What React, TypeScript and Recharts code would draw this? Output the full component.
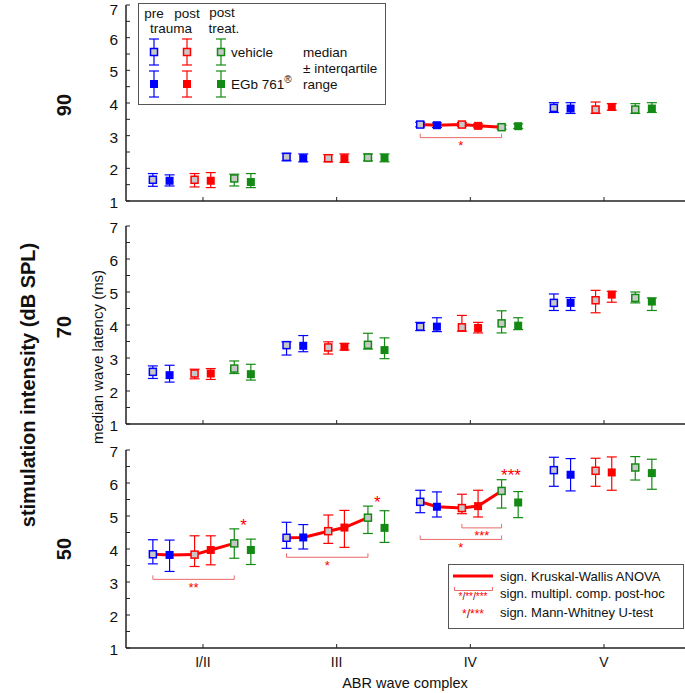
import React from 'react';
import {
  ComposedChart,
  Scatter,
  XAxis,
  YAxis,
  ErrorBar,
  ReferenceLine,
  ReferenceDot,
} from 'recharts';

// ---- data -------------------------------------------------------------
const categories = ['I/II', 'III', 'IV', 'V'];
// groups: pre trauma vehicle, pre trauma EGb, post trauma vehicle,
// post trauma EGb, post treat. vehicle, post treat. EGb

// 90 dB SPL: [wave][group]
const median90 = [
  [1.65, 1.62, 1.65, 1.62, 1.69, 1.58],
  [2.35, 2.31, 2.31, 2.31, 2.33, 2.32],
  [3.34, 3.32, 3.34, 3.3, 3.26, 3.29],
  [3.85, 3.83, 3.8, 3.88, 3.8, 3.83],
];
const q1_90 = [
  [1.45, 1.46, 1.43, 1.41, 1.46, 1.41],
  [2.23, 2.2, 2.2, 2.18, 2.23, 2.2],
  [3.27, 3.25, 3.28, 3.24, 3.2, 3.22],
  [3.71, 3.68, 3.68, 3.78, 3.68, 3.71],
];
const q3_90 = [
  [1.84, 1.8, 1.84, 1.87, 1.82, 1.84],
  [2.46, 2.44, 2.42, 2.44, 2.44, 2.44],
  [3.41, 3.39, 3.4, 3.36, 3.32, 3.36],
  [4.01, 4.01, 4.03, 3.98, 3.98, 4.01],
];

// 70 dB SPL
const median70 = [
  [2.58, 2.48, 2.53, 2.53, 2.68, 2.51],
  [3.39, 3.37, 3.32, 3.34, 3.4, 3.24],
  [3.95, 3.95, 3.93, 3.91, 4.05, 3.98],
  [4.67, 4.67, 4.75, 4.92, 4.82, 4.71],
];
const q1_70 = [
  [2.38, 2.27, 2.37, 2.35, 2.53, 2.33],
  [3.09, 3.19, 3.12, 3.24, 3.27, 2.98],
  [3.83, 3.8, 3.81, 3.76, 3.76, 3.86],
  [4.44, 4.44, 4.37, 4.69, 4.67, 4.44],
];
const q3_70 = [
  [2.76, 2.78, 2.66, 2.68, 2.91, 2.81],
  [3.49, 3.68, 3.49, 3.44, 3.75, 3.61],
  [4.08, 4.22, 4.29, 4.08, 4.43, 4.22],
  [4.94, 4.83, 5.05, 5.02, 5.0, 4.82],
];

// 50 dB SPL
const median50 = [
  [3.84, 3.82, 3.83, 3.97, 4.17, 3.97],
  [4.34, 4.35, 4.54, 4.65, 4.95, 4.64],
  [5.43, 5.28, 5.24, 5.3, 5.76, 5.41],
  [6.39, 6.25, 6.37, 6.32, 6.47, 6.3],
];
const q1_50 = [
  [3.55, 3.32, 3.47, 3.52, 3.72, 3.53],
  [4.02, 4.0, 4.17, 4.05, 4.47, 4.2],
  [5.1, 4.97, 5.07, 4.97, 5.24, 4.95],
  [5.9, 5.76, 5.9, 5.78, 6.09, 5.81],
];
const q3_50 = [
  [4.28, 4.27, 4.4, 4.4, 4.61, 4.3],
  [4.81, 4.74, 5.03, 5.17, 5.3, 5.16],
  [5.78, 5.73, 5.66, 5.78, 6.1, 5.74],
  [6.78, 6.74, 6.75, 6.79, 6.8, 6.72],
];

// significant Kruskal-Wallis per wave
const kruskal90 = [false, false, true, false];
const kruskal70 = [false, false, false, false];
const kruskal50 = [true, true, true, false];

// post-hoc brackets: wave index, from group, to group, level, stars
const brackets90 = [{ wave: 2, from: 0, to: 4, y: 2.94, stars: '*' }];
const brackets50 = [
  { wave: 0, from: 0, to: 4, y: 3.08, stars: '**' },
  { wave: 1, from: 0, to: 4, y: 3.75, stars: '*' },
  { wave: 2, from: 0, to: 4, y: 4.29, stars: '*' },
  { wave: 2, from: 2, to: 4, y: 4.64, stars: '***' },
];
// Mann-Whitney marks next to post treat. vehicle
const mannWhitney50 = [
  { wave: 0, y: 4.82, stars: '*' },
  { wave: 1, y: 5.52, stars: '*' },
  { wave: 2, y: 6.33, stars: '***' },
];

// ---- styling ----------------------------------------------------------
const FONT = '"Liberation Sans", Arial, sans-serif';
const BLUE = '#0000ff';
const RED = '#ff0000';
const GREEN = '#138a13';
const OPEN_FILL = '#c8c8c8';
const AXIS = '#222';
const BRACKET = '#e86a6a';

const groupStyle = [
  { color: BLUE, open: true },
  { color: BLUE, open: false },
  { color: RED, open: true },
  { color: RED, open: false },
  { color: GREEN, open: true },
  { color: GREEN, open: false },
];
const groupOffsets = [-0.375, -0.25, -0.063, 0.058, 0.234, 0.358];
const X_DOMAIN = [0.424, 4.606];
const Y_TICKS = [1, 1.5, 2, 2.5, 3, 3.5, 4, 4.5, 5, 5.5, 6, 6.5, 7];
const W = 685;

const panels = [
  { median: median90, q1: q1_90, q3: q3_90, kruskal: kruskal90, brackets: brackets90, mw: [] as typeof mannWhitney50 },
  { median: median70, q1: q1_70, q3: q3_70, kruskal: kruskal70, brackets: [] as typeof brackets50, mw: [] as typeof mannWhitney50 },
  { median: median50, q1: q1_50, q3: q3_50, kruskal: kruskal50, brackets: brackets50, mw: mannWhitney50 },
];

const xPos = (wave: number, group: number) => wave + 1 + groupOffsets[group];

function squareShape(open: boolean, color: string) {
  return (p: any) =>
    open ? (
      <rect x={p.cx - 3.5} y={p.cy - 3.5} width={7} height={7} fill={OPEN_FILL} stroke={color} strokeWidth={1.5} />
    ) : (
      <rect x={p.cx - 4} y={p.cy - 4} width={8} height={8} fill={color} />
    );
}

const starShape = (stars: string, size: number) => (p: any) => (
  <text
    x={p.cx}
    y={p.cy + size * 0.55}
    textAnchor="middle"
    fontSize={size}
    fill={RED}
    fontFamily={FONT}
  >
    {stars}
  </text>
);

function YTick(p: any) {
  const { x, y, payload } = p;
  const v = payload.value;
  // baseline of the label; kept inside the page for the topmost "7"
  const base = Math.max(y + 7, 15);
  return (
    <g>
      <line x1={x} x2={x + 4} y1={y} y2={y} stroke={AXIS} strokeWidth={1} />
      {Number.isInteger(v) && (
        <text x={x - 8} y={base} textAnchor="end" fontSize={15.5} fill="#111" fontFamily={FONT}>
          {v}
        </text>
      )}
    </g>
  );
}

function makeXTick(showLabels: boolean) {
  return (p: any) => {
    const { x, y, payload } = p;
    return (
      <g>
        <line x1={x} x2={x} y1={y} y2={y - 4} stroke={AXIS} strokeWidth={1} />
        {showLabels && (
          <text x={x} y={y + 14} dy="0.36em" textAnchor="middle" fontSize={14} fill="#111" fontFamily={FONT}>
            {categories[payload.value - 1]}
          </text>
        )}
      </g>
    );
  };
}

function Panel({ panel, top, marginTop, plotH, bottom }: any) {
  const axisH = bottom ? 40 : 20;
  const series = groupStyle.map((g, gi) =>
    categories.map((_, wi) => {
      const m = panel.median[wi][gi];
      return { x: xPos(wi, gi), y: m, err: [m - panel.q1[wi][gi], panel.q3[wi][gi] - m] };
    }),
  );
  return (
    <div style={{ position: 'absolute', left: 0, top }}>
      <ComposedChart
        width={W}
        height={marginTop + plotH + axisH}
        margin={{ top: marginTop, right: 0, bottom: 0, left: 0 }}
      >
        <XAxis
          type="number"
          dataKey="x"
          domain={X_DOMAIN}
          allowDataOverflow
          ticks={[1, 2, 3, 4]}
          interval={0}
          height={axisH}
          tickSize={0}
          tickMargin={0}
          tickLine={false}
          tick={makeXTick(bottom)}
          axisLine={{ stroke: AXIS, strokeWidth: 1.5 }}
        />
        <YAxis
          type="number"
          dataKey="y"
          domain={[1, 7]}
          allowDataOverflow
          ticks={Y_TICKS}
          interval={0}
          width={126}
          tickSize={0}
          tickMargin={0}
          tickLine={false}
          tick={<YTick />}
          axisLine={{ stroke: AXIS, strokeWidth: 1.5 }}
        />

        {/* Kruskal-Wallis lines under the markers */}
        {panel.kruskal.map((sig: boolean, wi: number) =>
          sig ? (
            <Scatter
              key={`kw${wi}`}
              data={[0, 1, 2, 3, 4].map((gi) => ({ x: xPos(wi, gi), y: panel.median[wi][gi] }))}
              line={{ stroke: RED, strokeWidth: 3 }}
              shape={() => <g />}
              isAnimationActive={false}
            />
          ) : null,
        )}

        {/* post-hoc brackets */}
        {panel.brackets.map((b: any, i: number) => {
          const x1 = xPos(b.wave, b.from);
          const x2 = xPos(b.wave, b.to);
          return (
            <React.Fragment key={`br${i}`}>
              <ReferenceLine segment={[{ x: x1, y: b.y }, { x: x2, y: b.y }]} stroke={BRACKET} strokeWidth={1} />
              <ReferenceLine segment={[{ x: x1, y: b.y }, { x: x1, y: b.y + 0.12 }]} stroke={BRACKET} strokeWidth={1} />
              <ReferenceLine segment={[{ x: x2, y: b.y }, { x: x2, y: b.y + 0.12 }]} stroke={BRACKET} strokeWidth={1} />
              <ReferenceDot x={(x1 + x2) / 2} y={b.y - 0.16} r={0} shape={starShape(b.stars, 13)} />
            </React.Fragment>
          );
        })}

        {groupStyle.map((g, gi) => (
          <Scatter
            key={`g${gi}`}
            data={series[gi]}
            shape={squareShape(g.open, g.color)}
            isAnimationActive={false}
          >
            <ErrorBar dataKey="err" direction="y" width={5} stroke={g.color} strokeWidth={1.2} />
          </Scatter>
        ))}

        {panel.mw.map((m: any, i: number) => (
          <ReferenceDot
            key={`mw${i}`}
            x={xPos(m.wave, 4) + 0.07}
            y={m.y}
            r={0}
            shape={starShape(m.stars, 17)}
          />
        ))}
      </ComposedChart>
    </div>
  );
}

function Overlay() {
  const txt = { fontFamily: FONT, fill: '#111' };
  const legendMarker = (x: number, y: number, color: string, open: boolean) => (
    <g>
      <line x1={x} x2={x} y1={y - 13} y2={y + 13} stroke={color} strokeWidth={1.2} />
      <line x1={x - 5} x2={x + 5} y1={y - 13} y2={y - 13} stroke={color} strokeWidth={1.2} />
      <line x1={x - 5} x2={x + 5} y1={y + 13} y2={y + 13} stroke={color} strokeWidth={1.2} />
      {open ? (
        <rect x={x - 3.5} y={y - 3.5} width={7} height={7} fill={OPEN_FILL} stroke={color} strokeWidth={1.5} />
      ) : (
        <rect x={x - 4} y={y - 4} width={8} height={8} fill={color} />
      )}
    </g>
  );
  return (
    <svg width={W} height={693} style={{ position: 'absolute', left: 0, top: 0, pointerEvents: 'none' }}>
      {/* axis titles */}
      <text transform="translate(28,385) rotate(-90)" textAnchor="middle" dominantBaseline="central" fontSize={20} fontWeight="bold" {...txt}>
        stimulation intensity (dB SPL)
      </text>
      {['90', '70', '50'].map((l, i) => (
        <text key={l} transform={`translate(64,${105 + i * 222}) rotate(-90)`} textAnchor="middle" dominantBaseline="central" fontSize={20} fontWeight="bold" {...txt}>
          {l}
        </text>
      ))}
      <text transform="translate(97,357) rotate(-90)" textAnchor="middle" dominantBaseline="central" fontSize={15} {...txt}>
        median wave latency (ms)
      </text>
      <text x={405} y={683} textAnchor="middle" dominantBaseline="central" fontSize={14.5} {...txt}>
        ABR wave complex
      </text>

      {/* group legend */}
      <rect x={138.5} y={3.5} width={247} height={101} fill="#fff" stroke="#555" strokeWidth={1} />
      <g fontSize={13.5} {...txt}>
        <text x={154} y={13} textAnchor="middle" dominantBaseline="central">pre</text>
        <text x={171} y={28} textAnchor="middle" dominantBaseline="central">trauma</text>
        <text x={187} y={13} textAnchor="middle" dominantBaseline="central">post</text>
        <text x={222} y={12} textAnchor="middle" dominantBaseline="central">post</text>
        <text x={224} y={28} textAnchor="middle" dominantBaseline="central">treat.</text>
        <text x={231} y={52} dominantBaseline="central">vehicle</text>
        <text x={231} y={84} dominantBaseline="central">
          EGb 761<tspan fontSize={10} dy={-5}>®</tspan>
        </text>
        <text x={303} y={52} dominantBaseline="central">median</text>
        <text x={303} y={68} dominantBaseline="central">± interqartile</text>
        <text x={303} y={84} dominantBaseline="central">range</text>
      </g>
      {legendMarker(154, 52, BLUE, true)}
      {legendMarker(154, 84, BLUE, false)}
      {legendMarker(187, 52, RED, true)}
      {legendMarker(187, 84, RED, false)}
      {legendMarker(221, 52, GREEN, true)}
      {legendMarker(221, 84, GREEN, false)}

      {/* statistics legend */}
      <rect x={448.5} y={564.5} width={235} height={64} fill="#fff" stroke="#555" strokeWidth={1} />
      <line x1={453} x2={493} y1={576} y2={576} stroke={RED} strokeWidth={3} />
      <path d="M454.5,587 V590.5 H492.5 V587" fill="none" stroke={BRACKET} strokeWidth={1} />
      <text x={473} y={600} textAnchor="middle" fontSize={10} fontFamily={FONT} fill={RED}>
        *<tspan fill="#7a1010">/</tspan>**<tspan fill="#7a1010">/</tspan>***
      </text>
      <text x={473} y={618} textAnchor="middle" fontSize={12} fontFamily={FONT} fill={RED}>
        *<tspan fill="#7a1010">/</tspan>***
      </text>
      <g fontSize={13} {...txt}>
        <text x={500} y={576} dominantBaseline="central">sign. Kruskal-Wallis ANOVA</text>
        <text x={500} y={593} dominantBaseline="central">sign. multipl. comp. post-hoc</text>
        <text x={500} y={612} dominantBaseline="central">sign. Mann-Whitney U-test</text>
      </g>
    </svg>
  );
}

export default function App() {
  return (
    <div style={{ position: 'absolute', left: 0, top: 0, width: W, height: 693, background: '#fff', fontFamily: FONT }}>
      <Panel panel={panels[0]} top={0} marginTop={5} plotH={196} bottom={false} />
      <Panel panel={panels[1]} top={216} marginTop={10} plotH={198} bottom={false} />
      <Panel panel={panels[2]} top={440} marginTop={10} plotH={198} bottom={true} />
      <Overlay />
    </div>
  );
}
